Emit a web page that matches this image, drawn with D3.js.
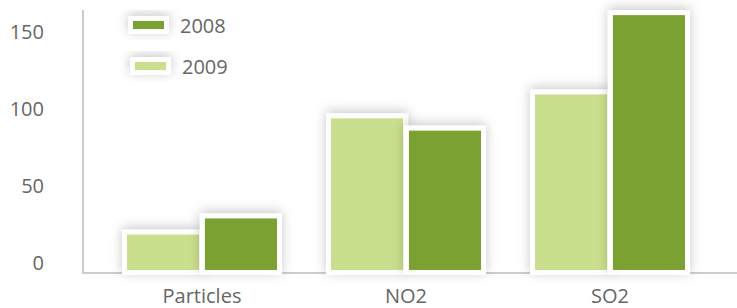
<!DOCTYPE html>
<html>
  <head>
    <meta charset="utf-8">
    <title>Emissions</title>
    <style>
      body { margin: 0; background: #fff; }
      text { font-family: "Open Sans", sans-serif; fill: #666; }
    </style>
  </head>
  <body>
    <svg id="chart" width="737" height="308"></svg>
    <script src="https://d3js.org/d3.v7.min.js"></script>
    <script>
      // data
      var categories = ['Particles', 'NO2', 'SO2'];
      var series = ['2009', '2008'];
      var values2009 = [23, 98.5, 114];
      var values2008 = [33.5, 90.5, 165.5];
      var yTicks = [0, 50, 100, 150];
      var legendOrder = ['2008', '2009'];

      var colors = { '2008': '#7aa132', '2009': '#c9df8d' };
      var values = { '2009': values2009, '2008': values2008 };

      const svg = d3.select('#chart');

      // soft shadow behind the white framed bars
      const defs = svg.append('defs');
      const f = defs.append('filter').attr('id', 'shadow')
        .attr('x', '-30%').attr('y', '-30%').attr('width', '160%').attr('height', '160%');
      f.append('feDropShadow')
        .attr('dx', 0).attr('dy', -2)
        .attr('stdDeviation', 6)
        .attr('flood-color', '#000')
        .attr('flood-opacity', 0.22);

      const x = d3.scaleBand().domain(categories).range([100, 712]).padding(0);
      const x1 = d3.scaleBand().domain(series).range([-75, 75]).paddingInner(0.075);
      const y = d3.scaleLinear().domain([0, 150]).range([270, 39]);

      // axes lines
      svg.append('line')
        .attr('x1', 83).attr('x2', 83).attr('y1', 10).attr('y2', 274)
        .attr('stroke', '#ccc').attr('stroke-width', 2);
      svg.append('line')
        .attr('x1', 82).attr('x2', 737).attr('y1', 273).attr('y2', 273)
        .attr('stroke', '#ccc').attr('stroke-width', 2);

      // y tick labels (baseline sits on the value)
      svg.selectAll('.ytick')
        .data(yTicks)
        .join('text')
          .attr('class', 'ytick')
          .attr('x', 44)
          .attr('y', d => y(d))
          .attr('text-anchor', 'end')
          .style('font-size', '20px')
          .text(d => d);

      // x labels
      svg.selectAll('.xlab')
        .data(categories)
        .join('text')
          .attr('class', 'xlab')
          .attr('x', d => x(d) + x.bandwidth() / 2)
          .attr('y', 303)
          .attr('text-anchor', 'middle')
          .style('font-size', '20px')
          .text(d => d);

      // bars: light first, dark on top
      const border = 5;
      series.forEach(s => {
        const g = svg.append('g');
        categories.forEach((c, i) => {
          const cx = x(c) + x.bandwidth() / 2;
          const bx = cx + x1(s);
          const top = y(values[s][i]);
          g.append('rect')
            .attr('x', bx - border)
            .attr('y', top - border)
            .attr('width', x1.bandwidth() + border * 2)
            .attr('height', y(0) - top + border * 2)
            .attr('fill', '#fff')
            .attr('filter', 'url(#shadow)');
          g.append('rect')
            .attr('x', bx)
            .attr('y', top)
            .attr('width', x1.bandwidth())
            .attr('height', y(0) - top)
            .attr('fill', colors[s]);
        });
      });

      // legend
      const legend = svg.append('g');
      legendOrder.forEach((s, i) => {
        const lx = 128 + i * 2, ly = 16 + i * 41;
        legend.append('rect')
          .attr('x', lx).attr('y', ly).attr('width', 41).attr('height', 18)
          .attr('fill', '#fff').attr('filter', 'url(#shadow)');
        legend.append('rect')
          .attr('x', lx + 5).attr('y', ly + 5).attr('width', 31).attr('height', 8)
          .attr('fill', colors[s]);
        legend.append('text')
          .attr('x', lx + 52).attr('y', ly + 17)
          .style('font-size', '20px')
          .text(s);
      });
    </script>
  </body>
</html>
